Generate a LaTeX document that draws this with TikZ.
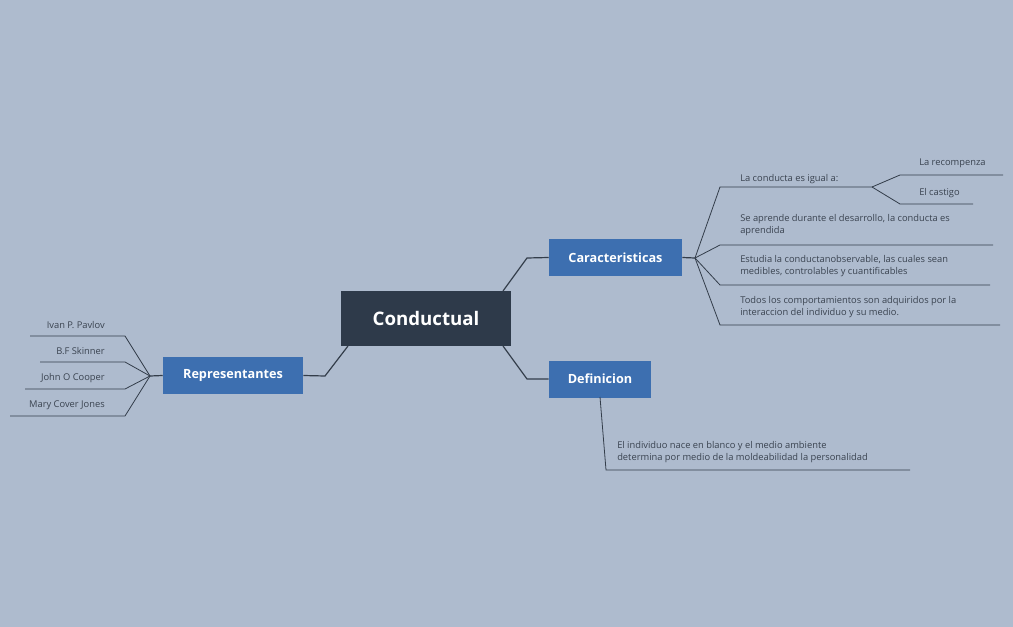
\documentclass[tikz,border=0pt]{standalone}
\usepackage{fontspec}
\setmainfont{Open Sans}
\definecolor{bg}{HTML}{AEBBCE}
\definecolor{dark}{HTML}{2E3A4A}
\definecolor{blu}{HTML}{3D6FB0}
\definecolor{ln}{HTML}{333D4A}
\definecolor{tx}{HTML}{3A4350}
\begin{document}
\begin{tikzpicture}[x=0.75pt,y=-0.75pt,
  mainbox/.style={fill=dark,text=white,font=\bfseries\fontsize{14}{16}\selectfont,minimum width=127.5pt,minimum height=41pt,inner sep=0pt},
  branch/.style={fill=blu,text=white,font=\bfseries\fontsize{9.5}{11}\selectfont,minimum height=27.75pt,inner sep=0pt},
  leaf/.style={text=tx,font=\fontsize{7}{9}\selectfont,inner sep=0pt,align=left},
  con/.style={draw=ln,line width=0.9pt},
  thin/.style={draw=ln,line width=0.6pt}]
\fill[bg] (0,0) rectangle (1013,627);
\useasboundingbox (0,0) rectangle (1013,627);
\node[mainbox] (c) at (426,318.5) {Conductual};
\node[branch,minimum width=99.75pt] (car) at (615.5,257.5) {Caracteristicas};
\node[branch,minimum width=76.5pt] (def) at (600,379) {Definicion};
\node[branch,minimum width=105pt] (rep) at (233,375.5) {Representantes};
\coordinate (c1) at (503,291); \coordinate (c2) at (503,346); \coordinate (c3) at (348,346);
\draw[con] (c1) -- (527,258) -- (car.west);
\draw[con] (c2) -- (527,379) -- (def.west);
\draw[con] (c3) -- (325,376) -- (rep.east);
% caracteristicas
\coordinate (h) at (695,258);
\draw[con] (car.east) -- (h);
\draw[thin] (h) -- (720,187) -- (872,187);
\draw[thin] (h) -- (720,245) -- (993,245);
\draw[thin] (h) -- (720,285) -- (990,285);
\draw[thin] (h) -- (720,325) -- (1000,325);
\node[leaf,anchor=west] (k1) at (740,179) {La conducta es igual a:};
\node[leaf,anchor=west] (k2) at (740,225.5) {Se aprende durante el desarrollo, la conducta es\\aprendida};
\node[leaf,anchor=west] (k3) at (740,266) {Estudia la conductanobservable, las cuales sean\\medibles, controlables y cuantificables};
\node[leaf,anchor=west] (k4) at (740,307) {Todos los comportamientos son adquiridos por la\\interaccion del individuo y su medio.};
\coordinate (s) at (872,187);
\draw[thin] (s) -- (900,175) -- (1003,175);
\draw[thin] (s) -- (900,204) -- (973,204);
\node[leaf,anchor=west] (r1) at (919,163) {La recompenza};
\node[leaf,anchor=west] (r2) at (919,193) {El castigo};
% definicion
\draw[thin] (def.south) ++(0,0) coordinate (d0) (600,397) -- (606,470) -- (910,470);
\node[leaf,anchor=west] (d1) at (617,452) {El individuo nace en blanco y el medio ambiente\\determina por medio de la moldeabilidad la personalidad};
% representantes
\coordinate (p) at (150,376);
\draw[con] (rep.west) -- (p);
\draw[thin] (p) -- (125,336) -- (30,336);
\draw[thin] (p) -- (125,362) -- (40,362);
\draw[thin] (p) -- (125,389) -- (25,389);
\draw[thin] (p) -- (125,416) -- (10,416);
\node[leaf,anchor=east] (n1) at (105,325) {Ivan P. Pavlov};
\node[leaf,anchor=east] (n2) at (105,351) {B.F Skinner};
\node[leaf,anchor=east] (n3) at (105,378) {John O Cooper};
\node[leaf,anchor=east] (n4) at (105,405) {Mary Cover Jones};
\end{tikzpicture}
\end{document}
